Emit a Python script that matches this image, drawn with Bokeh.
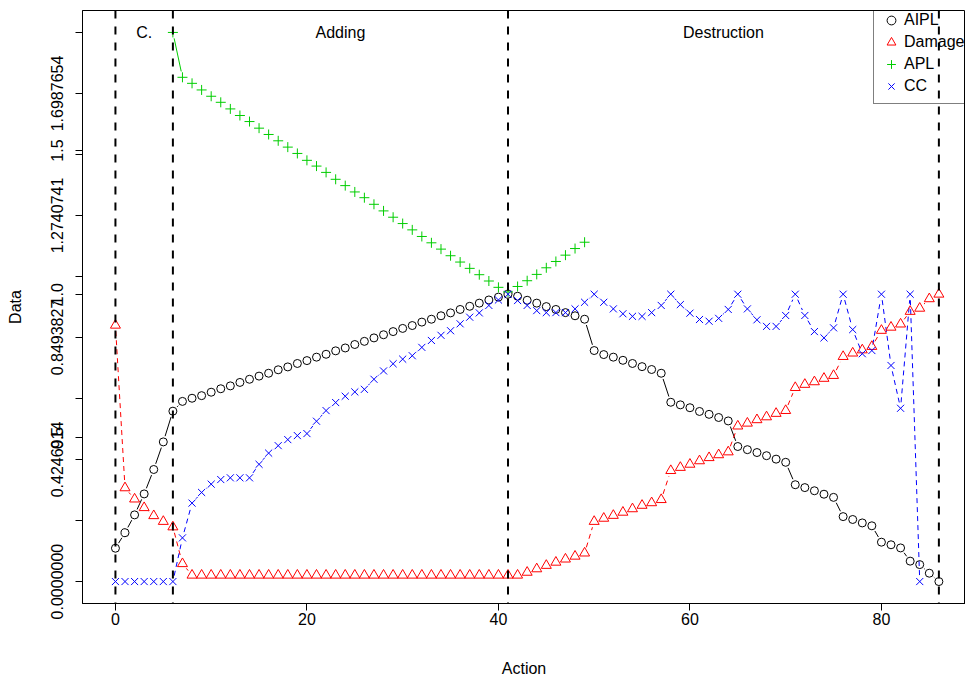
import math
from bokeh.plotting import figure
from bokeh.models import Range1d, FixedTicker, Span, Legend, LegendItem
from bokeh.core.properties import value
from bokeh.embed import file_html
from bokeh.resources import INLINE

FONT = "Liberation Sans"

# ---------------- data ----------------
action = list(range(87))
aipl = [0.116, 0.170, 0.232, 0.305, 0.390, 0.486, 0.593,
        0.627, 0.638, 0.647, 0.659, 0.671, 0.681, 0.693, 0.704, 0.715, 0.725,
        0.737, 0.747, 0.759, 0.769, 0.781, 0.791, 0.803, 0.813, 0.825, 0.836,
        0.848, 0.859, 0.870, 0.881, 0.891, 0.903, 0.913, 0.925, 0.935, 0.947,
        0.958, 0.969, 0.980, 0.990, 1.000,
        0.993, 0.979, 0.969, 0.957, 0.947, 0.936, 0.925, 0.913,
        0.804, 0.790, 0.781, 0.770, 0.759, 0.748, 0.738, 0.725,
        0.624, 0.615, 0.605, 0.592, 0.582, 0.571, 0.559,
        0.470, 0.459, 0.449, 0.438, 0.426, 0.415,
        0.337, 0.327, 0.316, 0.304, 0.293,
        0.226, 0.216, 0.204, 0.194,
        0.137, 0.128, 0.117,
        0.071, 0.059,
        0.029, 0.000]
damage = [0.892, 0.326, 0.287, 0.257, 0.229, 0.209, 0.190, 0.062,
          0.022, 0.022, 0.022, 0.022, 0.022, 0.022, 0.022, 0.022, 0.022, 0.022,
          0.022, 0.022, 0.022, 0.022, 0.022, 0.022, 0.022, 0.022, 0.022, 0.022,
          0.022, 0.022, 0.022, 0.022, 0.022, 0.022, 0.022, 0.022, 0.022, 0.022,
          0.022, 0.022, 0.022, 0.022, 0.022,
          0.032, 0.044, 0.056, 0.067, 0.078, 0.088, 0.099,
          0.209, 0.220, 0.230, 0.241, 0.253, 0.265, 0.274, 0.285,
          0.386, 0.397, 0.408, 0.420, 0.431, 0.441, 0.451,
          0.541, 0.551, 0.563, 0.573, 0.585, 0.595,
          0.675, 0.686, 0.695, 0.707, 0.717,
          0.783, 0.795, 0.806, 0.818,
          0.874, 0.885, 0.896,
          0.940, 0.951,
          0.984, 1.000]
apl_action = list(range(6, 50))
apl = [1.9111, 1.755, 1.734, 1.711, 1.689, 1.668, 1.645, 1.622, 1.601, 1.578,
       1.556, 1.534, 1.512, 1.490, 1.466, 1.446, 1.424, 1.400, 1.378, 1.356,
       1.336, 1.313, 1.290, 1.268, 1.246, 1.224, 1.201, 1.179, 1.157, 1.134,
       1.112, 1.090, 1.068, 1.046, 1.024,
       1.008, 1.027, 1.047, 1.069, 1.092, 1.114, 1.136, 1.159, 1.181]
cc_action = list(range(0, 85))
cc = [0.0, 0.0, 0.0, 0.0, 0.0, 0.0, 0.0,
      0.152, 0.273, 0.310, 0.339, 0.355, 0.361, 0.361, 0.361, 0.408, 0.447,
      0.473, 0.494, 0.508, 0.515, 0.558, 0.595, 0.623, 0.645, 0.660, 0.669,
      0.704, 0.733, 0.758, 0.774, 0.786, 0.815, 0.839, 0.857, 0.873, 0.897,
      0.920, 0.935, 0.961, 0.980, 1.000,
      0.978, 0.961, 0.943, 0.936, 0.936, 0.936, 0.949, 0.972,
      1.000, 0.972, 0.949, 0.932, 0.923, 0.923, 0.936, 0.961,
      1.000, 0.964, 0.934, 0.912, 0.906, 0.916, 0.947,
      1.000, 0.949, 0.911, 0.888, 0.888, 0.926,
      1.000, 0.926, 0.870, 0.848, 0.883,
      1.000, 0.877, 0.793, 0.804,
      1.000, 0.752, 0.603,
      1.000, 0.000]

phase_bounds = [0, 6, 41, 86]
phase_labels = ["C.", "Adding", "Destruction"]

x_ticks = [0, 20, 40, 60, 80]
x_tick_labels = ["0", "20", "40", "60", "80"]
y_ticks_a = [0.0, 0.2123457, 0.4246914, 0.6370370, 0.8493827, 1.0617284,
             1.2740741, 1.4864198, 1.6987654, 1.9111111]
y_labels_a = ["0.0000000", "", "0.4246914", "", "0.8493827", "",
              "1.2740741", "", "1.6987654", ""]
y_ticks_b = [0.5, 1.0, 1.5]
y_labels_b = ["0.5", "1.0", "1.5"]

# ---------------- figure ----------------
X0, X1 = -3.44, 88.78
Y0, Y1 = -0.0764, 1.9875
W, H = 965, 679
ML, MR, MT, MB = 82, 0, 10, 76

p = figure(width=W, height=H, output_backend="svg", toolbar_location=None,
           title=None,
           x_range=Range1d(X0, X1), y_range=Range1d(Y0, Y1),
           min_border_left=ML, min_border_right=MR,
           min_border_top=MT, min_border_bottom=MB)
p.background_fill_color = "white"
p.border_fill_color = "white"
p.outline_line_color = "black"
p.outline_line_width = 1
p.grid.visible = False

SX = (W - ML - MR) / (X1 - X0)
SY = (H - MT - MB) / (Y1 - Y0)


def gapped(xs, ys, r=6.0):
    x0, y0, x1, y1 = [], [], [], []
    for i in range(len(xs) - 1):
        dx = (xs[i + 1] - xs[i]) * SX
        dy = (ys[i + 1] - ys[i]) * SY
        L = math.hypot(dx, dy)
        if L <= 2 * r:
            continue
        f = r / L
        x0.append(xs[i] + (xs[i + 1] - xs[i]) * f)
        y0.append(ys[i] + (ys[i + 1] - ys[i]) * f)
        x1.append(xs[i + 1] - (xs[i + 1] - xs[i]) * f)
        y1.append(ys[i + 1] - (ys[i + 1] - ys[i]) * f)
    return dict(x0=x0, y0=y0, x1=x1, y1=y1)


BLACK, RED, GREEN, BLUE = "#000000", "#FF0000", "#00CD00", "#0000FF"

s = gapped(action, aipl)
p.segment(x0=s["x0"], y0=s["y0"], x1=s["x1"], y1=s["y1"], line_color=BLACK, line_width=1)
s = gapped(action, damage)
p.segment(x0=s["x0"], y0=s["y0"], x1=s["x1"], y1=s["y1"], line_color=RED, line_width=1,
          line_dash="5 4")
s = gapped(apl_action, apl)
p.segment(x0=s["x0"], y0=s["y0"], x1=s["x1"], y1=s["y1"], line_color=GREEN, line_width=1)
s = gapped(cc_action, cc)
p.segment(x0=s["x0"], y0=s["y0"], x1=s["x1"], y1=s["y1"], line_color=BLUE, line_width=1,
          line_dash="5 4")

r_aipl = p.scatter(action, aipl, marker="circle", size=8, fill_color=None,
                   line_color=BLACK, line_width=1)
r_dmg = p.scatter(action, damage, marker="triangle", size=10, fill_color=None,
                  line_color=RED, line_width=1)
r_apl = p.scatter(apl_action, apl, marker="cross", size=10, fill_color=None,
                  line_color=GREEN, line_width=1)
r_cc = p.scatter(cc_action, cc, marker="x", size=10, fill_color=None,
                 line_color=BLUE, line_width=1)

for b in phase_bounds:
    p.add_layout(Span(location=b, dimension="height", line_color="black",
                      line_width=2, line_dash="8 8"))

centers = [(phase_bounds[i] + phase_bounds[i + 1]) / 2 for i in range(3)]
label_y = max(apl)
p.text(x=centers, y=[label_y] * 3, text=phase_labels, text_font=value(FONT),
       text_font_size="16px", text_align="center", text_baseline="middle",
       text_color="black")

# axes
xa = p.xaxis[0]
xa.ticker = FixedTicker(ticks=x_ticks)
xa.major_label_overrides = {t: l for t, l in zip(x_ticks, x_tick_labels)}
ya = p.yaxis[0]
ya.ticker = FixedTicker(ticks=y_ticks_a + y_ticks_b)
ov = {t: l for t, l in zip(y_ticks_a, y_labels_a)}
ov.update({t: l for t, l in zip(y_ticks_b, y_labels_b)})
ya.major_label_overrides = ov
ya.major_label_orientation = "vertical"
for ax in (xa, ya):
    ax.major_label_text_font = FONT
    ax.major_label_text_font_size = "16px"
    ax.major_label_text_color = "black"
    ax.axis_label_text_font = FONT
    ax.axis_label_text_font_size = "16px"
    ax.axis_label_text_font_style = "normal"
    ax.axis_label_text_color = "black"
    ax.axis_line_color = "black"
    ax.major_tick_line_color = "black"
    ax.major_tick_out = 7
    ax.major_tick_in = 0
    ax.minor_tick_line_color = None
xa.axis_label = "Action"
ya.axis_label = "Data"
xa.major_label_standoff = 2
xa.axis_label_standoff = 32
ya.major_label_standoff = 12
ya.axis_label_standoff = 25

legend = Legend(items=[LegendItem(label="AIPL", renderers=[r_aipl]),
                       LegendItem(label="Damage", renderers=[r_dmg]),
                       LegendItem(label="APL", renderers=[r_apl]),
                       LegendItem(label="CC", renderers=[r_cc])],
                location=(791, 499))
legend.label_text_font = FONT
legend.label_text_font_size = "16px"
legend.label_text_color = "black"
legend.padding = 6
legend.spacing = -2
legend.margin = 0
legend.glyph_width = 22
legend.glyph_height = 22
legend.label_height = 18
legend.label_standoff = 2
legend.border_line_color = "black"
legend.border_line_width = 1
legend.background_fill_alpha = 0
p.add_layout(legend)

open("out.html", "w").write(file_html(p, INLINE))
